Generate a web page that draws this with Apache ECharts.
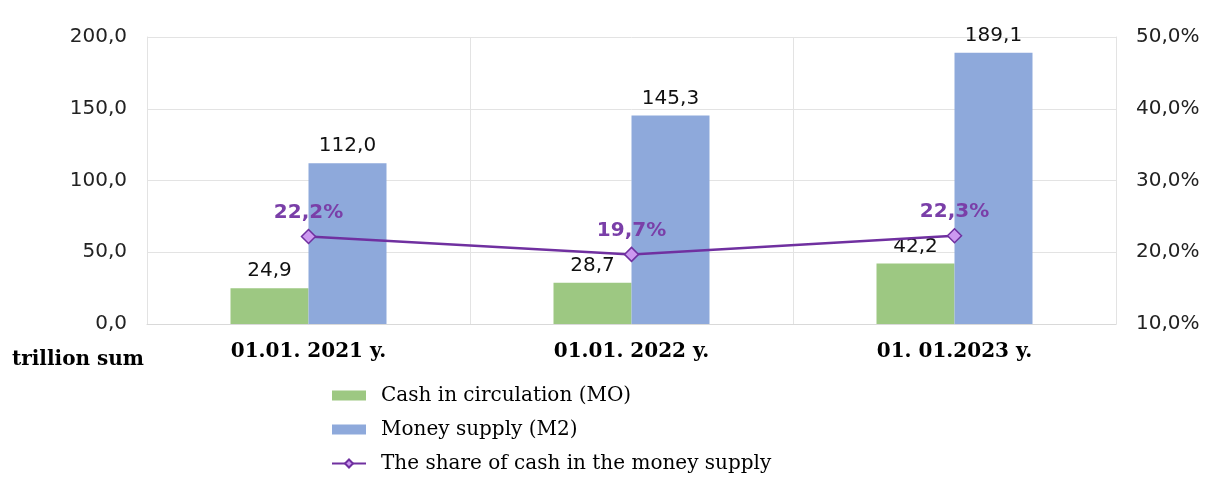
<!DOCTYPE html>
<html>
<head>
<meta charset="utf-8">
<script src="https://cdn.jsdelivr.net/npm/echarts@6/dist/echarts.min.js"></script>
<style>html,body{margin:0;padding:0;background:#fff;}#c{width:1222px;height:477px;}</style>
</head>
<body>
<div id="c"></div>
<script>
const categories = ['01.01. 2021 y.', '01.01. 2022 y.', '01. 01.2023 y.'];
const cashM0 = [24.9, 28.7, 42.2];
const moneyM2 = [112.0, 145.3, 189.1];
const cashShare = [22.2, 19.7, 22.3];
const leftTicks = {min: 0, max: 200, interval: 50};
const rightTicks = {min: 10, max: 50, interval: 10};
const seriesNames = ['Cash in circulation (MO)', 'Money supply (M2)', 'The share of cash in the money supply'];

const fmt1 = v => v.toFixed(1).replace('.', ',');
const sans = 'DejaVu Sans, Verdana, sans-serif';
const serif = 'DejaVu Serif, Liberation Serif, serif';

const chart = echarts.init(document.getElementById('c'));
chart.setOption({
  animation: false,
  backgroundColor: '#fff',
  grid: {left: 147, right: 106, top: 37, bottom: 153, containLabel: false},
  legend: {
    orient: 'vertical', left: 331, top: 384, padding: 0,
    itemWidth: 34, itemHeight: 10, itemGap: 11,
    textStyle: {fontFamily: serif, fontSize: 20, color: '#000', lineHeight: 23, padding: [0, 0, 0, 10]},
    data: [
      {name: seriesNames[0], icon: 'rect'},
      {name: seriesNames[1], icon: 'rect'},
      {name: seriesNames[2]}
    ]
  },
  graphic: [{
    type: 'text', left: 12, top: 350,
    style: {text: 'trillion sum', font: 'bold 20px ' + serif, fill: '#000'}
  }],
  xAxis: {
    type: 'category', data: categories,
    axisLine: {show: true, lineStyle: {color: '#d9d9d9'}},
    axisTick: {show: false},
    splitLine: {show: true, lineStyle: {color: '#e3e3e3'}},
    axisLabel: {fontFamily: serif, fontWeight: 'bold', fontSize: 20, color: '#000', margin: 18}
  },
  yAxis: [{
    type: 'value', min: leftTicks.min, max: leftTicks.max, interval: leftTicks.interval,
    axisLine: {show: true, lineStyle: {color: '#e3e3e3'}},
    axisTick: {show: false},
    splitLine: {lineStyle: {color: '#e3e3e3'}},
    axisLabel: {fontFamily: sans, fontSize: 20, color: '#222', margin: 20, formatter: v => fmt1(v)}
  }, {
    type: 'value', min: rightTicks.min, max: rightTicks.max, interval: rightTicks.interval,
    position: 'right',
    axisLine: {show: true, lineStyle: {color: '#e3e3e3'}},
    axisTick: {show: false},
    splitLine: {show: false},
    axisLabel: {fontFamily: sans, fontSize: 20, color: '#222', margin: 20, formatter: v => fmt1(v) + '%'}
  }],
  series: [{
    name: seriesNames[0], type: 'bar', data: cashM0, barWidth: 78, barGap: '0%',
    itemStyle: {color: '#9DC882'},
    label: {show: true, position: 'top', distance: 7, fontFamily: sans, fontSize: 20, color: '#111', formatter: p => fmt1(p.value)}
  }, {
    name: seriesNames[1], type: 'bar', data: moneyM2, barWidth: 78, barGap: '0%',
    itemStyle: {color: '#8EA9DB'},
    label: {show: true, position: 'top', distance: 7, fontFamily: sans, fontSize: 20, color: '#111', formatter: p => fmt1(p.value)}
  }, {
    name: seriesNames[2], type: 'line', yAxisIndex: 1, data: cashShare,
    symbol: 'diamond', symbolSize: 14,
    lineStyle: {color: '#7030A0', width: 2.5},
    itemStyle: {color: '#CC99F0', borderColor: '#7030A0', borderWidth: 1.5},
    label: {show: true, position: 'top', distance: 6, fontFamily: sans, fontWeight: 'bold', fontSize: 20, color: '#7A3FA8', formatter: p => fmt1(p.value) + '%'},
    z: 5
  }]
});
</script>
</body>
</html>
